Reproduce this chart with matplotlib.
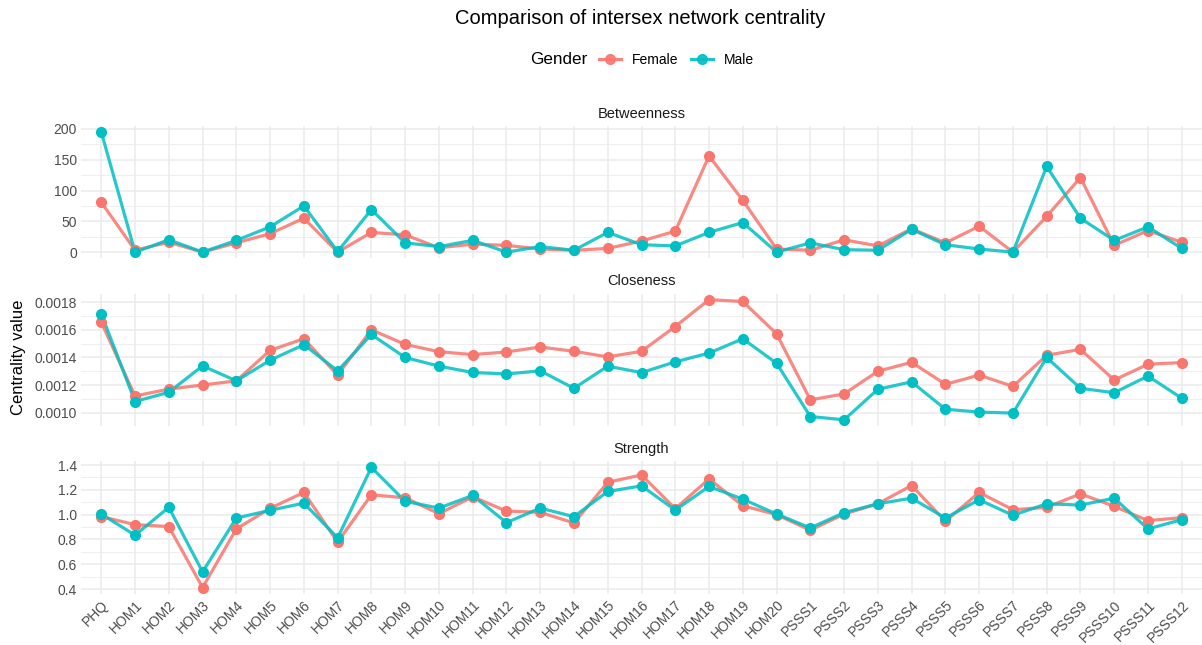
import matplotlib
matplotlib.use('Agg')
import matplotlib.pyplot as plt
from matplotlib.lines import Line2D
from matplotlib.ticker import MultipleLocator, FormatStrFormatter

plt.rcParams['font.family'] = ['Liberation Sans', 'DejaVu Sans']

nodes = ['PHQ', 'HOM1', 'HOM2', 'HOM3', 'HOM4', 'HOM5', 'HOM6', 'HOM7', 'HOM8',
         'HOM9', 'HOM10', 'HOM11', 'HOM12', 'HOM13', 'HOM14', 'HOM15', 'HOM16',
         'HOM17', 'HOM18', 'HOM19', 'HOM20', 'PSSS1', 'PSSS2', 'PSSS3', 'PSSS4',
         'PSSS5', 'PSSS6', 'PSSS7', 'PSSS8', 'PSSS9', 'PSSS10', 'PSSS11', 'PSSS12']

betweenness_female = [81, 3, 16, 0, 15, 30, 55, 0, 32, 28, 7, 13, 11, 5, 3, 6, 18,
                      34, 156, 84, 5, 3, 20, 10, 38, 15, 42, 0, 58, 121, 11, 35, 16]
betweenness_male = [195, 0, 20, 0, 19, 41, 75, 1, 69, 15, 9, 19, 0, 9, 3, 32, 12,
                    10, 32, 48, 0, 15, 4, 3, 37, 12, 5, 0, 139, 55, 19, 41, 6]

closeness_female = [0.001656, 0.00112, 0.00117, 0.00120, 0.00123, 0.001452, 0.001536,
                    0.001272, 0.001601, 0.001495, 0.001442, 0.001421, 0.001440,
                    0.001476, 0.001445, 0.001404, 0.001445, 0.001625, 0.001820,
                    0.001807, 0.001572, 0.001092, 0.001135, 0.001300, 0.001365,
                    0.001205, 0.001272, 0.001190, 0.001416, 0.001459, 0.001236,
                    0.001351, 0.001363]
closeness_male = [0.001716, 0.00108, 0.001147, 0.001339, 0.00123, 0.00138, 0.001493,
                  0.001303, 0.001567, 0.001400, 0.001337, 0.001291, 0.001280,
                  0.001303, 0.001176, 0.001337, 0.001290, 0.001368, 0.001432,
                  0.001536, 0.001358, 0.000971, 0.000947, 0.001169, 0.001223,
                  0.001024, 0.001003, 0.000996, 0.001400, 0.001176, 0.001144,
                  0.001265, 0.001104]

strength_female = [0.984, 0.92, 0.904, 0.413, 0.885, 1.051, 1.179, 0.779, 1.16, 1.136,
                   1.008, 1.144, 1.029, 1.019, 0.933, 1.261, 1.32, 1.048, 1.288, 1.072,
                   1.0, 0.875, 1.005, 1.088, 1.235, 0.947, 1.179, 1.04, 1.059, 1.168,
                   1.067, 0.952, 0.976]
strength_male = [1.005, 0.835, 1.059, 0.539, 0.973, 1.035, 1.093, 0.813, 1.381, 1.107,
                 1.053, 1.155, 0.936, 1.053, 0.984, 1.187, 1.232, 1.037, 1.227, 1.125,
                 1.005, 0.893, 1.016, 1.088, 1.133, 0.973, 1.12, 0.995, 1.088, 1.077,
                 1.133, 0.885, 0.96]

female_col = '#F8766D'
male_col = '#00BFC4'
grid_col = '#EBEBEB'

# (title, female, male, major step, minor step, tick format)
panels = [
    ('Betweenness', betweenness_female, betweenness_male, 50, 25, '%d'),
    ('Closeness', closeness_female, closeness_male, 0.0002, 0.0001, '%.4f'),
    ('Strength', strength_female, strength_male, 0.2, 0.1, '%.1f'),
]

fig, axes = plt.subplots(3, 1, figsize=(12.02, 6.45), dpi=100, sharex=True)
fig.subplots_adjust(left=0.0674, right=1.0, top=0.8047, bottom=0.0798, hspace=0.269)

x = list(range(len(nodes)))
for ax, (name, fem, mal, major, minor, fmt) in zip(axes, panels):
    ax.plot(x, fem, color=female_col, lw=2.3, alpha=0.85, zorder=3)
    ax.plot(x, mal, color=male_col, lw=2.3, alpha=0.85, zorder=3)
    ax.plot(x, fem, 'o', color=female_col, ms=7, zorder=4)
    ax.plot(x, mal, 'o', color=male_col, ms=7, zorder=4)

    lo = min(min(fem), min(mal))
    hi = max(max(fem), max(mal))
    pad = (hi - lo) * 0.05
    ax.set_ylim(lo - pad, hi + pad)
    ax.set_xlim(-0.6, len(nodes) - 0.4)

    ax.yaxis.set_major_locator(MultipleLocator(major))
    ax.yaxis.set_minor_locator(MultipleLocator(minor))
    ax.yaxis.set_major_formatter(FormatStrFormatter(fmt))
    ax.grid(True, which='major', color=grid_col, lw=1.1, zorder=0)
    ax.grid(True, which='minor', axis='y', color=grid_col, lw=0.6, zorder=0)
    ax.set_axisbelow(True)
    for s in ax.spines.values():
        s.set_visible(False)
    ax.tick_params(axis='both', which='both', length=0, labelsize=10,
                   labelcolor='#4D4D4D', pad=3)
    ax.set_title(name, fontsize=10.5, pad=6, color='#1A1A1A')

axes[-1].set_xticks(x)
axes[-1].set_xticklabels(nodes, rotation=45, ha='right', va='top',
                         rotation_mode='anchor')

fig.text(0.015, 0.446, 'Centrality value', rotation=90, ha='center', va='center',
         fontsize=12)
fig.text(0.533, 0.972, 'Comparison of intersex network centrality', ha='center',
         va='center', fontsize=14.5)

# legend: "Gender" label on the left, entries in one row
fig.text(0.489, 0.907, 'Gender', ha='right', va='center', fontsize=12.3)
handles = [
    Line2D([], [], color=female_col, lw=2.3, marker='o', ms=7, alpha=0.9),
    Line2D([], [], color=male_col, lw=2.3, marker='o', ms=7, alpha=0.9),
]
fig.legend(handles, ['Female', 'Male'], loc='center', bbox_to_anchor=(0.5628, 0.907),
           ncol=2, frameon=False, fontsize=10, handlelength=1.6, handletextpad=0.8,
           columnspacing=0.9)

fig.savefig('out.png', dpi=100, facecolor='white')
